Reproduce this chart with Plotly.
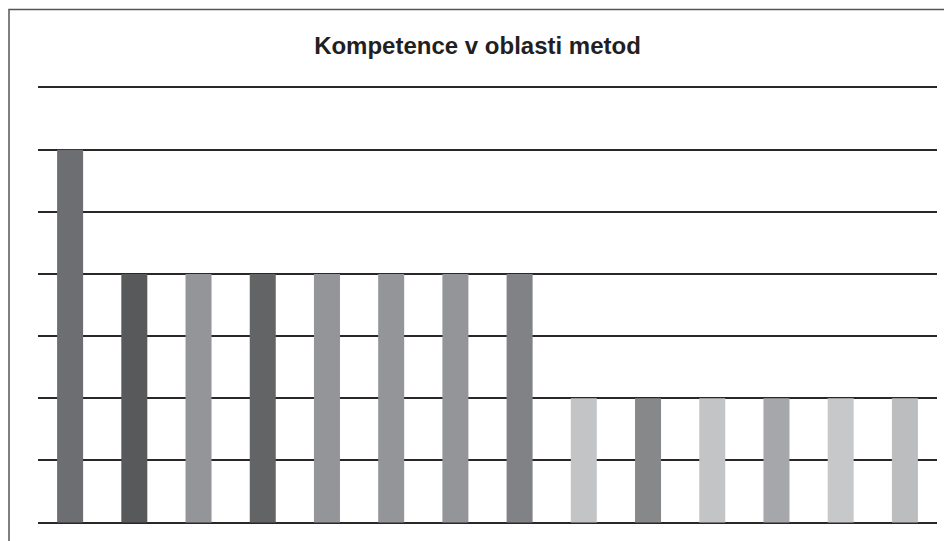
import plotly.graph_objects as go

# categories are unlabeled in the source chart
categories = [f"k{i}" for i in range(1, 15)]
values = [6, 4, 4, 4, 4, 4, 4, 4, 2, 2, 2, 2, 2, 2]
colors = ["#6d6e71", "#58595b", "#939598", "#636466", "#939598", "#939598", "#939598",
          "#808285", "#c3c4c6", "#87888a", "#c3c4c6", "#a6a7aa", "#c7c8ca", "#bcbdbf"]

# page body adds an 8px offset, so figure coords = screen coords - 8
W, H = 944, 533
unit = 62.2          # px per value unit
pad = 0.04           # keeps the 0 and 7 gridlines inside the plot area
left = 30
pw = 899
ph = unit * (7 + 2 * pad)
top = 79 - unit * pad
right = W - left - pw
bottom = H - top - ph

fig = go.Figure(go.Bar(x=categories, y=values, marker=dict(color=colors, line=dict(width=0)),
                       showlegend=False, hoverinfo="y"))

fig.update_layout(
    width=W,
    height=H,
    margin=dict(l=left, r=right, t=top, b=bottom),
    paper_bgcolor="white",
    plot_bgcolor="white",
    bargap=0.595,
    title=dict(text="<b>Kompetence v oblasti metod</b>", x=469.5 / W, xanchor="center",
               y=1 - 38 / H, yanchor="middle",
               font=dict(family="Liberation Sans, Arial, sans-serif", size=24, color="#231f20")),
    xaxis=dict(showticklabels=False, showgrid=False, zeroline=False, showline=False),
    yaxis=dict(range=[-pad, 7 + pad], tickvals=[0, 1, 2, 3, 4, 5, 6, 7], showticklabels=False,
               showgrid=True, gridcolor="#2a2728", gridwidth=1.5, zeroline=False, showline=False),
    shapes=[dict(type="rect", xref="paper", yref="paper",
                 x0=(1 - left) / pw, x1=(W + 20 - left) / pw,
                 y0=-(bottom + 20) / ph, y1=1 + (top - 1) / ph,
                 line=dict(color="#555555", width=1.5), fillcolor="rgba(0,0,0,0)",
                 layer="below")],
)

fig.write_html("out.html")
